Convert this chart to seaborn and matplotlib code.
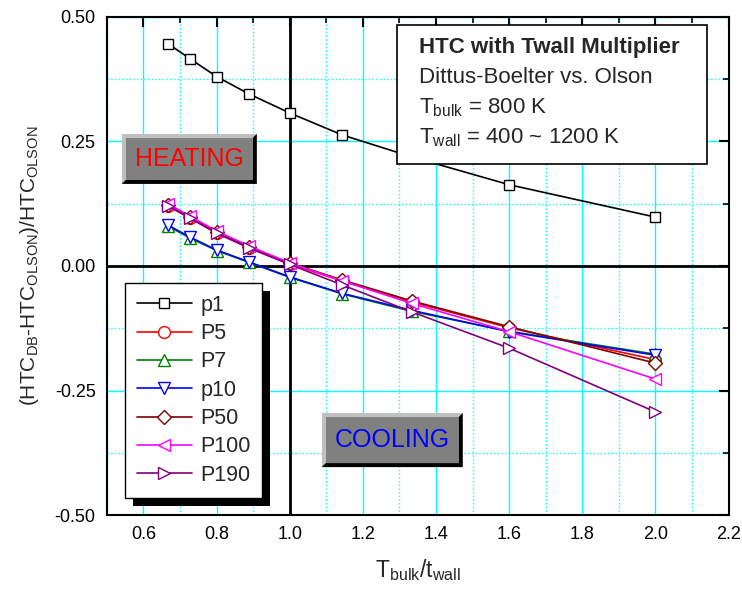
import numpy as np
import pandas as pd
import matplotlib
matplotlib.use("Agg")
import matplotlib.pyplot as plt
import seaborn as sns
from matplotlib.patches import Rectangle, Polygon
from matplotlib.ticker import MultipleLocator

# ---------------- data ----------------
ratio = [0.667, 0.727, 0.800, 0.889, 1.000, 1.143, 1.333, 1.600, 2.000]
p1 = [0.446, 0.416, 0.380, 0.345, 0.307, 0.263, 0.219, 0.163, 0.098]
P5 = [0.120, 0.096, 0.066, 0.036, 0.004, -0.030, -0.072, -0.124, -0.188]
P7 = [0.080, 0.056, 0.031, 0.007, -0.023, -0.056, -0.091, -0.131, -0.177]
p10 = [0.082, 0.058, 0.032, 0.008, -0.022, -0.055, -0.089, -0.132, -0.179]
P50 = [0.122, 0.098, 0.068, 0.038, 0.006, -0.028, -0.070, -0.122, -0.195]
P100 = [0.125, 0.100, 0.070, 0.040, 0.006, -0.030, -0.075, -0.132, -0.227]
P190 = [0.121, 0.096, 0.066, 0.036, 0.003, -0.038, -0.092, -0.165, -0.293]

series_names = ["p1", "P5", "P7", "p10", "P50", "P100", "P190"]
series_vals = [p1, P5, P7, p10, P50, P100, P190]
colors = ["black", "red", "#008000", "blue", "#800000", "magenta", "#800080"]
markers = ["s", "o", "^", "v", "D", "<", ">"]
msizes = [7.5, 8.5, 8.5, 8.5, 7, 8.5, 8.5]

x_ticks = [0.6, 0.8, 1.0, 1.2, 1.4, 1.6, 1.8, 2.0, 2.2]
y_ticks = [-0.50, -0.25, 0.00, 0.25, 0.50]

# ---------------- style ----------------
sns.set_style("white")
plt.rcParams["font.family"] = ["Liberation Sans", "DejaVu Sans"]
plt.rcParams["mathtext.fontset"] = "custom"
plt.rcParams["mathtext.rm"] = "Liberation Sans"
plt.rcParams["mathtext.it"] = "Liberation Sans:italic"
plt.rcParams["mathtext.bf"] = "Liberation Sans:bold"

fig = plt.figure(figsize=(7.42, 5.99), dpi=100)
ax = fig.add_axes([0.144, 0.140, 0.838, 0.832])

df = pd.DataFrame({"ratio": ratio * len(series_names),
                   "value": sum(series_vals, []),
                   "series": sum([[n] * len(ratio) for n in series_names], [])})

for name, c, m, ms in zip(series_names, colors, markers, msizes):
    sub = df[df["series"] == name]
    sns.lineplot(data=sub, x="ratio", y="value", ax=ax, color=c, marker=m,
                 markersize=ms, markerfacecolor="white", markeredgecolor=c,
                 markeredgewidth=1.0, linewidth=1.2, label=name, sort=False,
                 zorder=3)

ax.set_xlim(0.5, 2.2)
ax.set_ylim(-0.5, 0.5)
ax.set_xticks(x_ticks)
ax.set_yticks(y_ticks)
ax.set_xticklabels([f"{v:.1f}" for v in x_ticks])
ax.set_yticklabels([f"{v:.2f}" for v in y_ticks])
ax.xaxis.set_minor_locator(MultipleLocator(0.1))
ax.yaxis.set_minor_locator(MultipleLocator(0.125))

ax.grid(which="major", color="#00ffff", linewidth=1.0, linestyle="-", zorder=0)
ax.grid(which="minor", color="#00ffff", linewidth=1.0, linestyle=":", zorder=0)
ax.set_axisbelow(True)

ax.axvline(1.0, color="black", linewidth=2.0, zorder=2)
ax.axhline(0.0, color="black", linewidth=2.0, zorder=2)

for s in ax.spines.values():
    s.set_color("black")
    s.set_linewidth(1.5)
ax.tick_params(which="both", direction="in", top=True, right=True,
               colors="black", labelsize=13)
ax.tick_params(which="major", length=7, width=1.5, pad=8)
ax.tick_params(which="minor", length=4, width=1.2)

ax.set_xlabel(r"T$_\mathrm{bulk}$/t$_\mathrm{wall}$", fontsize=16.5, labelpad=10)
ax.set_ylabel(r"(HTC$_\mathrm{DB}$-HTC$_\mathrm{OLSON}$)/HTC$_\mathrm{OLSON}$",
              fontsize=15, labelpad=10)

# pixel -> axes fraction helpers
AX_L, AX_R, AX_T, AX_B = 107.0, 729.0, 17.0, 515.0
def fx(px):
    return (px - AX_L) / (AX_R - AX_L)
def fy(py):
    return (AX_B - py) / (AX_B - AX_T)

def bevel_box(x0, y0, x1, y1, text, tcolor, bw=4):
    outer = Rectangle((fx(x0), fy(y1)), fx(x1) - fx(x0), fy(y0) - fy(y1),
                      transform=ax.transAxes, facecolor="#c0c0c0",
                      edgecolor="none", zorder=6)
    ax.add_patch(outer)
    dark = Polygon([(fx(x1), fy(y0)), (fx(x1), fy(y1)), (fx(x0), fy(y1)),
                    (fx(x0 + bw), fy(y1 - bw)), (fx(x1 - bw), fy(y1 - bw)),
                    (fx(x1 - bw), fy(y0 + bw))],
                   closed=True, transform=ax.transAxes, facecolor="black",
                   edgecolor="none", zorder=6.1)
    ax.add_patch(dark)
    face = Rectangle((fx(x0 + bw), fy(y1 - bw)), fx(x1 - bw) - fx(x0 + bw),
                     fy(y0 + bw) - fy(y1 - bw), transform=ax.transAxes,
                     facecolor="#808080", edgecolor="none", zorder=6.2)
    ax.add_patch(face)
    ax.text(fx((x0 + x1) / 2), fy((y0 + y1) / 2), text, transform=ax.transAxes,
            ha="center", va="center", color=tcolor, fontsize=18, zorder=6.3)

bevel_box(122, 134, 257, 184, "HEATING", "red")
bevel_box(322, 413, 463, 467, "COOLING", "blue")

# info box
info = Rectangle((fx(397), fy(164)), fx(707) - fx(397), fy(25) - fy(164),
                 transform=ax.transAxes, facecolor="white", edgecolor="black",
                 linewidth=1.2, zorder=7)
ax.add_patch(info)
tx = fx(419)
ax.text(tx, fy(48), "HTC with Twall Multiplier", transform=ax.transAxes,
        fontsize=16, fontweight="bold", va="center", ha="left", zorder=8)
ax.text(tx, fy(78), "Dittus-Boelter vs. Olson", transform=ax.transAxes,
        fontsize=16, va="center", ha="left", zorder=8)
ax.text(tx, fy(108), r"T$_\mathrm{bulk}$ = 800 K", transform=ax.transAxes,
        fontsize=16, va="center", ha="left", zorder=8)
ax.text(tx, fy(138), r"T$_\mathrm{wall}$ = 400 ~ 1200 K", transform=ax.transAxes,
        fontsize=16, va="center", ha="left", zorder=8)

# legend
leg = ax.legend(loc="upper left", bbox_to_anchor=(fx(125), fy(283)),
                borderaxespad=0, fontsize=15.5, frameon=True, fancybox=False,
                framealpha=1, edgecolor="black", handlelength=2.55,
                labelspacing=0.34, handletextpad=0.4, borderpad=0.55)
leg.get_frame().set_linewidth(1.0)
leg.set_zorder(10)

fig.canvas.draw()
bb = leg.get_window_extent()
W, H = fig.bbox.width, fig.bbox.height
off = 8
shadow = Rectangle(((bb.x0 + off) / W, (bb.y0 - off) / H), bb.width / W, bb.height / H,
                   transform=fig.transFigure, facecolor="black", edgecolor="none",
                   zorder=9)
ax.add_artist(shadow)
shadow.set_transform(fig.transFigure)
shadow.set_clip_on(False)

fig.savefig("out.png", dpi=100)
